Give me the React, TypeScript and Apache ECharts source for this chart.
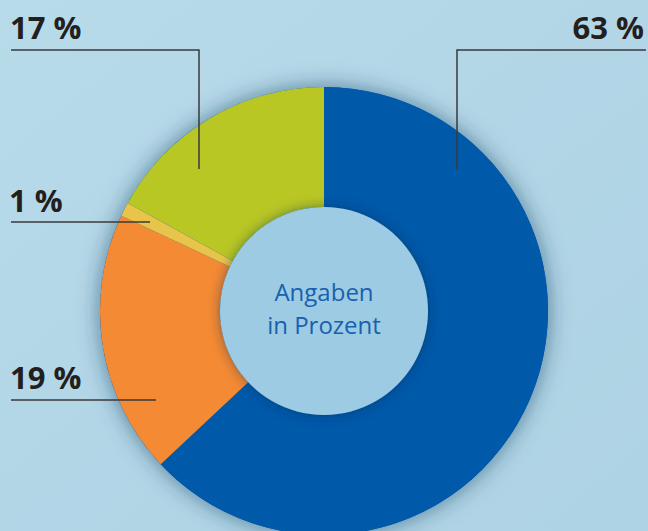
import React, { useEffect, useRef } from "react";
import * as echarts from "echarts";

const categories = ["Blau", "Orange", "Gelb", "Grün"];
const values = [63, 19, 1, 17];
const colors = ["#0059a9", "#f48a33", "#e8c44a", "#b8c724"];
const labelTexts = ["63 %", "19 %", "1 %", "17 %"];
const centerText = "Angaben\nin Prozent";

export default function App() {
  const ref = useRef<HTMLDivElement>(null);
  useEffect(() => {
    if (!ref.current) return;
    const chart = echarts.init(ref.current, null, { renderer: "svg" });
    const lineStyle = { stroke: "#3a3a3a", lineWidth: 1.5 };
    const labelStyle = (t: string, x: number, y: number, align: string) => ({
      type: "text",
      x,
      y,
      z: 100,
      style: {
        text: t,
        fontFamily: "Open Sans",
        fontWeight: "bold",
        fontSize: 31,
        fill: "#231f20",
        align,
        verticalAlign: "middle",
      },
    });
    chart.setOption({
      animation: false,
      backgroundColor: {
        type: "linear",
        x: 0,
        y: 0,
        x2: 1,
        y2: 1,
        colorStops: [
          { offset: 0, color: "#b8dbea" },
          { offset: 0.5, color: "#b2d6e6" },
          { offset: 1, color: "#aed3e4" },
        ],
      },
      series: [
        {
          type: "pie",
          silent: true,
          center: [324, 311],
          radius: [0, 224],
          z: 1,
          label: { show: false },
          itemStyle: {
            color: "#0059a9",
            shadowBlur: 22,
            shadowColor: "rgba(20,50,85,0.55)",
          },
          data: [{ value: 1, name: "bg" }],
        },
        {
          type: "pie",
          silent: true,
          center: [324, 311],
          radius: [104, 224],
          startAngle: 90,
          clockwise: true,
          z: 2,
          label: { show: false },
          labelLine: { show: false },
          data: values.map((v, i) => ({
            value: v,
            name: categories[i],
            itemStyle: { color: colors[i] },
          })),
        },
        {
          type: "pie",
          silent: true,
          center: [324, 311],
          radius: [0, 104],
          z: 3,
          itemStyle: {
            color: "#9dcbe3",
            shadowBlur: 12,
            shadowColor: "rgba(10,40,80,0.5)",
          },
          label: {
            show: true,
            position: "center",
            formatter: centerText,
            fontFamily: "Open Sans",
            fontSize: 24,
            lineHeight: 33,
            color: "#1761ae",
            offset: [0, -3],
          },
          labelLine: { show: false },
          data: [{ value: 1, name: "center" }],
        },
      ],
      graphic: [
        labelStyle(labelTexts[3], 10, 27, "left"),
        labelStyle(labelTexts[0], 644, 27, "right"),
        labelStyle(labelTexts[2], 9, 200, "left"),
        labelStyle(labelTexts[1], 10, 377, "left"),
        { type: "polyline", z: 100, shape: { points: [[11, 50], [199, 50], [199, 169]] }, style: { ...lineStyle, fill: null } },
        { type: "polyline", z: 100, shape: { points: [[646, 50], [457, 50], [457, 169]] }, style: { ...lineStyle, fill: null } },
        { type: "line", z: 100, shape: { x1: 11, y1: 222, x2: 150, y2: 222 }, style: lineStyle },
        { type: "line", z: 100, shape: { x1: 11, y1: 400, x2: 156, y2: 400 }, style: lineStyle },
      ],
    });
    return () => chart.dispose();
  }, []);
  return (
    <div
      ref={ref}
      style={{ position: "fixed", left: 0, top: 0, width: 648, height: 531 }}
    />
  );
}
